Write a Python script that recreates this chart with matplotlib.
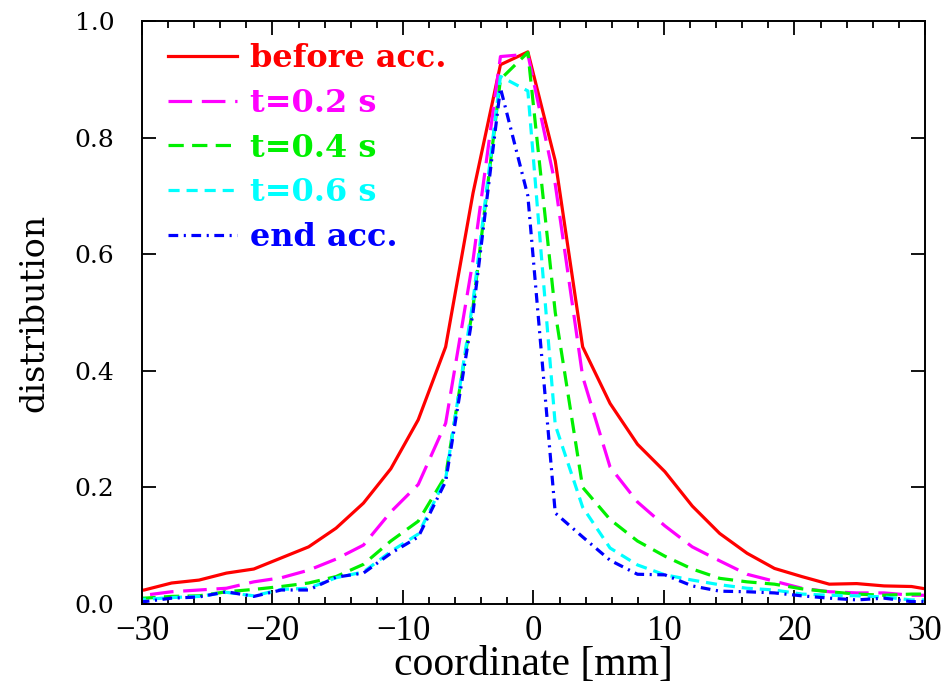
import numpy as np
import matplotlib
matplotlib.use("Agg")
import matplotlib.pyplot as plt

plt.rcParams['lines.scale_dashes'] = False

# coordinate grid [mm]
coord = [-31.93, -29.83, -27.73, -25.63, -23.53, -21.43, -19.33, -17.23, -15.13,
         -13.03, -10.93, -8.83, -6.73, -4.63, -2.53, -0.43, 1.67, 3.77, 5.87,
         7.97, 10.07, 12.17, 14.27, 16.37, 18.47, 20.57, 22.67, 24.77, 26.87,
         28.97, 31.07]

before_acc = [0.020, 0.024, 0.036, 0.041, 0.053, 0.060, 0.079, 0.098, 0.130,
              0.173, 0.232, 0.316, 0.441, 0.705, 0.925, 0.947, 0.760, 0.441,
              0.344, 0.274, 0.227, 0.168, 0.121, 0.087, 0.061, 0.047, 0.034,
              0.035, 0.031, 0.030, 0.022]
t02 = [0.013, 0.015, 0.021, 0.024, 0.027, 0.038, 0.045, 0.058, 0.077,
       0.101, 0.158, 0.205, 0.310, 0.590, 0.939, 0.943, 0.720, 0.390,
       0.235, 0.175, 0.134, 0.098, 0.074, 0.051, 0.039, 0.027, 0.021,
       0.019, 0.019, 0.015, 0.015]
t04 = [0.010, 0.010, 0.013, 0.014, 0.021, 0.025, 0.030, 0.036, 0.047,
       0.068, 0.108, 0.142, 0.220, 0.510, 0.900, 0.946, 0.500, 0.200,
       0.145, 0.108, 0.082, 0.060, 0.044, 0.038, 0.034, 0.026, 0.021,
       0.017, 0.015, 0.017, 0.017]
t06 = [0.008, 0.008, 0.011, 0.013, 0.020, 0.014, 0.025, 0.027, 0.045,
       0.055, 0.090, 0.120, 0.215, 0.520, 0.905, 0.880, 0.307, 0.166,
       0.096, 0.067, 0.050, 0.041, 0.033, 0.027, 0.024, 0.017, 0.015,
       0.014, 0.012, 0.007, 0.007]
end_acc = [0.004, 0.004, 0.010, 0.012, 0.021, 0.013, 0.024, 0.024, 0.046,
           0.053, 0.087, 0.115, 0.210, 0.500, 0.885, 0.700, 0.156, 0.115,
           0.075, 0.051, 0.050, 0.031, 0.022, 0.021, 0.019, 0.014, 0.010,
           0.007, 0.010, 0.004, 0.004]

labels = ["before acc.", "t=0.2 s", "t=0.4 s", "t=0.6 s", "end acc."]
colors = ["#ff0000", "#ff00ff", "#00f000", "#00ffff", "#0000ff"]
dashes = [None, (17, 7), (11, 6), (8, 5), (7, 4, 1.5, 4)]

fig = plt.figure(figsize=(9.51, 6.88), dpi=100)
ax = fig.add_axes([0.1493, 0.1221, 0.8233, 0.8474])

series = [before_acc, t02, t04, t06, end_acc]
for y, lab, c, d in zip(series, labels, colors, dashes):
    line, = ax.plot(coord, y, color=c, lw=2.3, label=lab)
    if d is not None:
        line.set_dashes(d)

ax.set_xlim(-30, 30)
ax.set_ylim(0, 1.0)
ax.set_xticks(np.arange(-30, 31, 10))
ax.set_xticks(np.arange(-30, 31, 2), minor=True)
ax.set_yticks(np.arange(0, 1.01, 0.2))
ax.set_xticklabels(["\u221230", "\u221220", "\u221210", "0", "10", "20", "30"])
ax.set_yticklabels(["0.0", "0.2", "0.4", "0.6", "0.8", "1.0"])

ax.tick_params(which='both', direction='in', top=True, right=True, color='black', width=1.3)
ax.tick_params(which='major', length=10)
ax.tick_params(which='minor', length=5)
ax.tick_params(axis='x', which='major', pad=8)
ax.tick_params(axis='y', which='major', pad=20)
for lbl in ax.get_xticklabels():
    lbl.set_fontfamily('Liberation Serif')
    lbl.set_fontsize(25)
for lbl in ax.get_yticklabels():
    lbl.set_fontfamily('DejaVu Serif')
    lbl.set_fontsize(18)
for s in ax.spines.values():
    s.set_linewidth(1.4)

ax.set_xlabel("coordinate [mm]", fontfamily='Liberation Serif', fontsize=30, va='center')
ax.xaxis.set_label_coords(0.5, -0.105)
ax.set_ylabel("distribution", fontfamily='DejaVu Serif', fontsize=24, va='center')
ax.yaxis.set_label_coords(-0.137, 0.5)

leg = ax.legend(loc='upper left', bbox_to_anchor=(0.033, 0.962), frameon=False,
                borderpad=0, borderaxespad=0, handlelength=2.15, handletextpad=0.42,
                labelspacing=0.43, labelcolor='linecolor',
                prop={'family': 'DejaVu Serif', 'weight': 'bold', 'size': 23})

fig.savefig("out.png", dpi=100)
